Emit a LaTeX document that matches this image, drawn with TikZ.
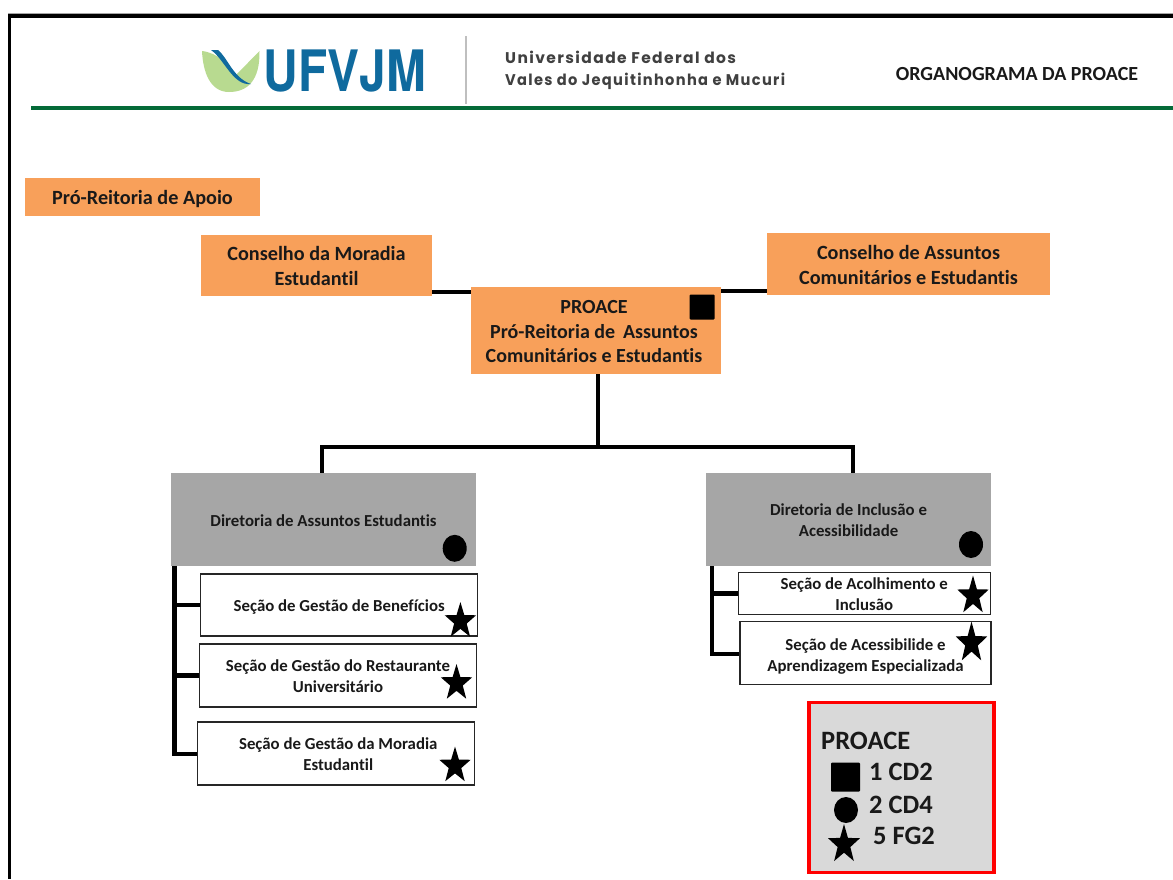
\documentclass[tikz,border=0pt]{standalone}
\usepackage{fontspec}
\setmainfont[Ligatures=NoCommon]{Carlito}
\newfontfamily\unifont[LetterSpace=9]{Poppins}
\newfontfamily\logofont{TeX Gyre Heros}
\usetikzlibrary{shapes.geometric,calc}
\definecolor{orangefill}{HTML}{F8A05A}
\definecolor{grayfill}{HTML}{A6A6A6}
\definecolor{legendfill}{HTML}{D9D9D9}
\definecolor{greenrule}{HTML}{046A38}
\definecolor{logoblue}{HTML}{0F6A9E}
\definecolor{logogreen}{HTML}{B8DA90}
% #1 horizontal kern (twice the offset), #2 top kern (twice the downward offset), #3 lines
\newcommand{\shifted}[3]{\vbox{\kern#2\hbox{\kern#1\begin{tabular}{@{}c@{}}#3\end{tabular}}}}
\tikzset{
  x=1pt,y=-1pt,
  basebox/.style={draw=none,inner sep=0pt,align=center,font=\bfseries\color{black!90}},
  orangebox/.style={basebox,fill=orangefill},
  graybox/.style={basebox,fill=grayfill,font=\fontsize{16.8}{21}\selectfont\bfseries\color{black!90}},
  sectionbox/.style={basebox,fill=white,draw=black!85,line width=1.2pt,font=\fontsize{16.8}{21}\selectfont\bfseries\color{black!90}},
  orgline/.style={line width=4.5pt,black},
  squaremark/.style={fill=black,inner sep=0pt,draw=none,rounded corners=1pt},
  circlemark/.style={ellipse,fill=black,inner sep=0pt,draw=none,minimum width=24pt,minimum height=27pt},
  starmark/.style={star,star points=5,star point ratio=2.5,fill=black,inner sep=0pt,draw=none,minimum size=33pt,transform shape},
  legendtext/.style={inner sep=0pt,anchor=west,font=\fontsize{26.5}{28}\selectfont\bfseries\color{black!90}}
}
\begin{document}
\begin{tikzpicture}
\useasboundingbox (0,0) rectangle (1173,879);
% page frame
\fill[black] (7.5,14) rectangle (1173,17.5);
\fill[black] (7.5,14) rectangle (11,879);
\fill[black!35] (7.5,13.2) rectangle (1173,14);
% header
\fill[logogreen] (202,51) .. controls (203,72) and (210,92) .. (229,92) .. controls (248,92) and (260,80) .. (259.5,51)
  -- (236,75) .. controls (228,64) and (218,53) .. cycle;
\fill[logoblue] (211,50) -- (218,50) .. controls (228,58) and (233,78) .. (251,84) .. controls (233,86) and (225,60) .. cycle;
\node[inner sep=0pt,anchor=center] (logo) at (345,71) {\scalebox{.854}[1.02]{\fontsize{56}{60}\logofont\bfseries\color{logoblue}UFVJM}};
\fill[black!25] (465,36) rectangle (467,104);
\node[inner sep=0pt,anchor=west,align=left,font=\fontsize{15.5}{22}\unifont\bfseries\color{black!75}] (uni) at (505,70) {Universidade Federal dos\\\scalebox{.943}[1]{Vales do Jequitinhonha e Mucuri}};
\node[inner sep=0pt,font=\fontsize{20}{22}\selectfont\bfseries\color{black!90}] (title) at (1017,74) {ORGANOGRAMA DA PROACE};
\fill[greenrule] (31,106) rectangle (1173,110);
% orange boxes
\node[orangebox,minimum width=235pt,minimum height=38pt,font=\fontsize{20.2}{22}\selectfont\bfseries\color{black!90}] (apoio) at (142.5,197) {\shifted{0pt}{6pt}{Pró-Reitoria de Apoio}};
\node[orangebox,minimum width=231pt,minimum height=61pt,font=\fontsize{20.2}{25}\selectfont\bfseries\color{black!90}] (moradia) at (316.5,265.5) {\shifted{0pt}{4pt}{Conselho da Moradia\\Estudantil}};
\node[orangebox,minimum width=283pt,minimum height=62pt,font=\fontsize{20.2}{25}\selectfont\bfseries\color{black!90}] (assuntos) at (908.5,264) {\shifted{0pt}{6pt}{Conselho de Assuntos\\Comunitários e Estudantis}};
\node[orangebox,minimum width=250pt,minimum height=87pt,font=\fontsize{20}{24.5}\selectfont\bfseries\color{black!90}] (proace) at (596,330.5) {\shifted{-4pt}{6pt}{PROACE\\Pró-Reitoria de\, Assuntos\\Comunitários e Estudantis}};
% directorates
\node[graybox,minimum width=305pt,minimum height=93pt] (dae) at (323.5,519.5) {\shifted{0pt}{6pt}{Diretoria de Assuntos Estudantis}};
\node[graybox,minimum width=285pt,minimum height=93pt] (dia) at (848.5,519.5) {\shifted{0pt}{4pt}{Diretoria de Inclusão e\\Acessibilidade}};
% sections
\node[sectionbox,minimum width=277pt,minimum height=62pt] (s1) at (339.25,605) {\shifted{0pt}{4pt}{Seção de Gestão de Benefícios}};
\node[sectionbox,minimum width=277pt,minimum height=63pt] (s2) at (338,675.5) {\shifted{0pt}{4pt}{Seção de Gestão do Restaurante\\Universitário}};
\node[sectionbox,minimum width=277pt,minimum height=63pt] (s3) at (336.25,753.5) {\shifted{4pt}{5pt}{Seção de Gestão da Moradia\\Estudantil}};
\node[sectionbox,minimum width=252pt,minimum height=42pt] (s4) at (864.25,593.25) {\raisebox{-7.2pt}[0pt][0pt]{\begin{tabular}{@{}c@{}}Seção de Acolhimento e\\Inclusão\end{tabular}}};
\node[sectionbox,minimum width=251pt,minimum height=63pt] (s5) at (865.5,653.25) {\shifted{0pt}{8pt}{Seção de Acessibilide e\\Aprendizagem Especializada}};
% connector junctions
\coordinate (jl) at (450,292);
\coordinate (jr) at (745,290.5);
\coordinate (bus) at (598,447);
\coordinate (dl) at (322,447);
\coordinate (dr) at (853,447);
\coordinate (tl) at (174.5,566);
\coordinate (tr) at (712,566);
\coordinate (tlend) at (174.5,754);
\coordinate (trend) at (712,654);
% connectors
\draw[orgline] (jl -| moradia.east) -- (jl -| proace.west);
\draw[orgline,line width=4pt] (jr -| proace.east) -- (jr -| assuntos.west);
\draw[orgline] (bus |- proace.south) -- (bus);
\draw[orgline,line cap=butt] (dl |- dae.north) -- (dl) -- (dr) -- (dr |- dia.north);
\draw[orgline] (tl) -- (tlend) -- (tlend -| s3.west);
\draw[orgline] (tl |- s1.west) -- (s1.west);
\draw[orgline] (tl |- s2.west) -- (s2.west);
\draw[orgline] (tr) -- (trend) -- (trend -| s5.west);
\draw[orgline] (tr |- s4.west) -- (s4.west);
% rank marks
\node[squaremark,minimum size=25pt] (mk0) at (702,307) {};
\node[circlemark] (mk1) at (454.7,548.3) {};
\node[circlemark] (mk2) at (971,544.5) {};
\node[starmark,yscale=1.16] (mk3) at (460.4,621.2) {};
\node[starmark,yscale=1.16] (mk4) at (456.5,683.2) {};
\node[starmark,yscale=1.16] (mk5) at (455,765.7) {};
\node[starmark,yscale=1.23] (mk6) at (973,595.8) {};
\node[starmark,yscale=1.3] (mk7) at (971.5,643) {};
% legend
\node[draw=red,line width=3.8pt,fill=legendfill,minimum width=185pt,minimum height=170pt,inner sep=0pt] (legend) at (901.2,787.5) {};
\node[legendtext] (lg0) at (821,741) {PROACE};
\node[squaremark,minimum size=29pt] (lgs) at (845.5,777) {};
\node[circlemark,minimum width=24pt,minimum height=26pt] (lgc) at (846,810) {};
\node[starmark,minimum size=33.5pt,yscale=1.22] (lgt) at (844,844.5) {};
\node[legendtext] (lg1) at (869,772) {1 CD2};
\node[legendtext] (lg2) at (869,805) {2 CD4};
\node[legendtext] (lg3) at (873,836) {5 FG2};
\end{tikzpicture}
\end{document}
